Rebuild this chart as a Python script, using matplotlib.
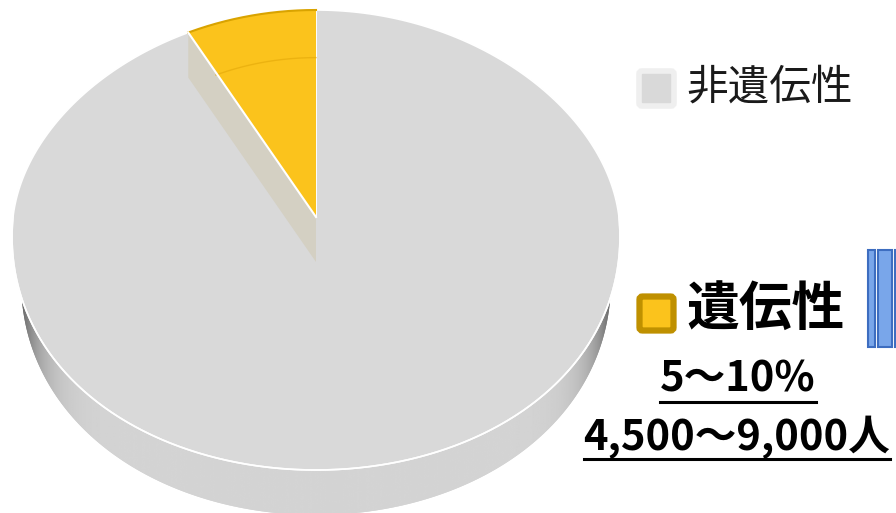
import numpy as np
import matplotlib.pyplot as plt
from matplotlib.patches import Polygon, FancyBboxPatch, Rectangle

plt.rcParams['font.family'] = ['Noto Sans CJK JP', 'DejaVu Sans']

# data
labels = ['遺伝性', '非遺伝性']
shares = [7.5, 92.5]
colors = ['#FBC31C', '#D9D9D9']
pct_text = '5～10%'
count_text = '4,500～9,000人'

# pie geometry (pixels), a rough perspective look
cx, cy = 316, 217
a = 303
b_back, b_front = 207, 253
k = 0.08
h = 45


def proj(theta, r=1.0, dz=0.0, sx=1.0):
    t = np.radians(theta)
    u = r * np.cos(t)
    v = r * np.sin(t)
    x = cx + a * sx * u * (1 - k * v)
    y = cy - np.where(v > 0, b_back, b_front) * v + dz
    return x, y


fig = plt.figure(figsize=(8.96, 5.13), dpi=100)
ax = fig.add_axes([0, 0, 1, 1])
ax.set_xlim(0, 896)
ax.set_ylim(513, 0)
ax.axis('off')

# bottom disc -> visible side under the top face
th = np.linspace(0, 360, 600)
xb, yb = proj(th, dz=h, sx=0.97)
xt, yt = proj(th)
fth = np.linspace(180, 360, 300)
xf, yf = proj(fth)
xfb, yfb = proj(fth[::-1], dz=h, sx=0.97)
side = Polygon(np.column_stack([np.r_[xb], np.r_[yb]]), closed=True,
               facecolor='none', edgecolor='none')
ax.add_patch(side)
band = Polygon(np.column_stack([np.r_[xf, xfb], np.r_[yf, yfb]]), closed=True,
               facecolor='none', edgecolor='none')
gx = np.linspace(0, 896, 900)
uu = np.clip(np.abs((gx - cx) / (a * 0.99)), 0, 1)
bright = 0.83 - 0.55 * uu ** 14
grad = np.tile(bright, (60, 1))
for clip in [side, band]:
    ax.add_patch(clip)
    img = ax.imshow(grad, extent=(0, 896, 513, 0), cmap='gray', vmin=0, vmax=1,
                    aspect='auto', zorder=1)
    img.set_clip_path(clip)

# slices on top face
angles = np.cumsum([0] + shares) / sum(shares) * 360 + 90
ox, oy = proj(0, 0)
for i in [1, 0]:
    tt = np.linspace(angles[i], angles[i + 1], 300)
    px, py = proj(tt)
    ax.add_patch(Polygon(np.column_stack([np.r_[ox, px], np.r_[oy, py]]), closed=True,
                         facecolor=colors[i], edgecolor='white', lw=1.2, zorder=3))

# exposed cut face of the small slice
ex, ey = proj(angles[1])
ax.add_patch(Polygon([[ox, oy], [ex, ey], [ex, ey + h], [ox, oy + h]], closed=True,
                     facecolor='#D4D0C3', edgecolor='none', zorder=4))
tt = np.linspace(angles[0], angles[1], 200)
px, py = proj(tt)
ax.add_patch(Polygon(np.column_stack([np.r_[ox, px], np.r_[oy, py]]), closed=True,
                     facecolor=colors[0], edgecolor='none', zorder=5))
ax.plot(px, py, color='#D9A300', lw=1.5, zorder=6)
ix, iy = proj(tt, r=0.77)
ax.plot(ix, iy, color='#E6AC0C', lw=1.0, alpha=0.7, zorder=6)
ax.plot([ox, ex], [oy, ey], color='white', lw=1.5, zorder=6)

# rim highlight on front edge
ax.plot(xf, yf, color='white', lw=1.2, zorder=6)

# legend
ax.add_patch(FancyBboxPatch((639, 71), 35, 35, boxstyle='round,pad=0,rounding_size=3',
                            facecolor=colors[1], edgecolor='#EFEFEF', lw=4, zorder=5))
ax.text(686, 88, labels[1], fontsize=30, color='#1A1A1A', va='center', ha='left', zorder=6)

ax.add_patch(FancyBboxPatch((639.5, 296.5), 34, 34, boxstyle='round,pad=0,rounding_size=3',
                            facecolor=colors[0], edgecolor='#BF9000', lw=4.5, zorder=5))
ax.text(686, 309, labels[0], fontsize=38, fontweight='bold', color='black',
        va='center', ha='left', zorder=6)

t_pct = ax.text(738, 379, pct_text, fontsize=30, fontweight='bold', color='black',
                va='center', ha='center', zorder=6)
t_cnt = ax.text(737, 437, count_text, fontsize=30, fontweight='bold', color='black',
                va='center', ha='center', zorder=6)

fig.canvas.draw()
r = fig.canvas.get_renderer()
inv = ax.transData.inverted()
for t, yline in [(t_pct, 402), (t_cnt, 459)]:
    bb = t.get_window_extent(r)
    (x0, _), (x1, _) = inv.transform([[bb.x0, bb.y0], [bb.x1, bb.y1]])
    ax.plot([x0, x1], [yline, yline], color='black', lw=2.2, zorder=6)

# cropped blue bars at right edge
for x0, w in [(868, 7), (878, 14), (895, 10)]:
    ax.add_patch(Rectangle((x0, 250), w, 97, facecolor='#79A6EA', edgecolor='#3D6DC0',
                           lw=1.5, zorder=5))

fig.savefig('out.png', dpi=100)
